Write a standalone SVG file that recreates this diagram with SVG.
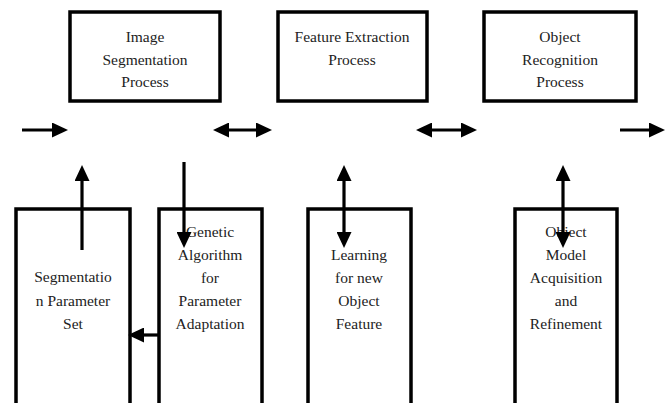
<svg xmlns="http://www.w3.org/2000/svg" width="671" height="403" viewBox="0 0 671 403">
<style>
.box{fill:none;stroke:#000;stroke-width:3.5}
text{font-family:'Liberation Serif','Times New Roman','DejaVu Serif',serif;font-size:15.5px;fill:#222;text-anchor:middle}
.c{stroke:#000;stroke-width:3.2;fill:none}
</style>
<defs>
<marker id="ah" markerUnits="userSpaceOnUse" markerWidth="16" markerHeight="15" refX="4" refY="7.5" orient="auto-start-reverse" viewBox="0 0 16 15">
<path d="M0,0 L16,7.5 L0,15 z" fill="#000"/>
</marker>
</defs>
<rect width="671" height="403" fill="#fff"/>
<g id="image-segmentation">
<rect class="box" x="70" y="12" width="150" height="89"/>
<text x="145" y="42">Image</text>
<text x="145" y="65">Segmentation</text>
<text x="145" y="87">Process</text>
</g>
<g id="feature-extraction">
<rect class="box" x="278" y="12" width="149" height="89"/>
<text x="352" y="42">Feature Extraction</text>
<text x="352" y="65">Process</text>
</g>
<g id="object-recognition">
<rect class="box" x="484" y="12" width="152" height="89"/>
<text x="560" y="42">Object</text>
<text x="560" y="65">Recognition</text>
<text x="560" y="87">Process</text>
</g>
<g id="segmentation-parameter-set">
<rect class="box" x="16" y="209" width="114" height="210"/>
<text x="73" y="282">Segmentatio</text>
<text x="73" y="306">n Parameter</text>
<text x="73" y="329">Set</text>
</g>
<g id="genetic-algorithm">
<rect class="box" x="159" y="209" width="103" height="210"/>
<text x="210" y="237">Genetic</text>
<text x="210" y="260">Algorithm</text>
<text x="210" y="283">for</text>
<text x="210" y="306">Parameter</text>
<text x="210" y="329">Adaptation</text>
</g>
<g id="learning-feature">
<rect class="box" x="308" y="209" width="103" height="210"/>
<text x="359" y="260">Learning</text>
<text x="359" y="283">for new</text>
<text x="359" y="306">Object</text>
<text x="359" y="329">Feature</text>
</g>
<g id="object-model">
<rect class="box" x="515" y="209" width="102" height="210"/>
<text x="566" y="237">Object</text>
<text x="566" y="260">Model</text>
<text x="566" y="283">Acquisition</text>
<text x="566" y="306">and</text>
<text x="566" y="329">Refinement</text>
</g>
<g id="connectors">
<line class="c" x1="22" y1="130" x2="56" y2="130" marker-end="url(#ah)"/>
<line class="c" x1="225" y1="130" x2="260" y2="130" marker-start="url(#ah)" marker-end="url(#ah)"/>
<line class="c" x1="428" y1="130" x2="465" y2="130" marker-start="url(#ah)" marker-end="url(#ah)"/>
<line class="c" x1="620" y1="130" x2="653" y2="130" marker-end="url(#ah)"/>
<line class="c" x1="82" y1="250" x2="82" y2="177" marker-end="url(#ah)"/>
<line class="c" x1="184" y1="162" x2="184" y2="236" marker-end="url(#ah)"/>
<line class="c" x1="158" y1="335" x2="140" y2="335" marker-end="url(#ah)"/>
<line class="c" x1="344" y1="177" x2="344" y2="236" marker-start="url(#ah)" marker-end="url(#ah)"/>
<line class="c" x1="563" y1="177" x2="563" y2="236" marker-start="url(#ah)" marker-end="url(#ah)"/>
</g>
</svg>
